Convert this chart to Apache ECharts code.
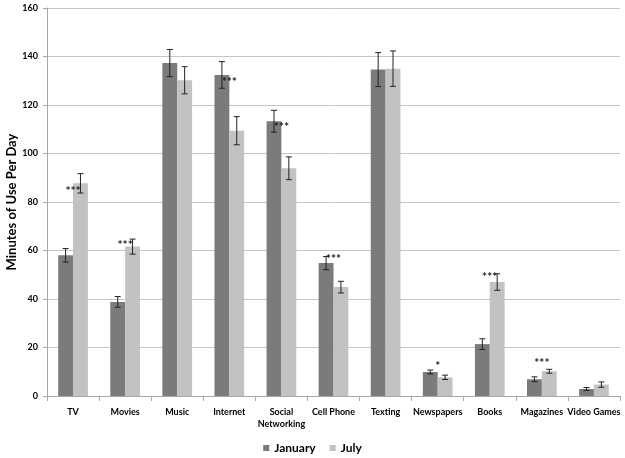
<!DOCTYPE html>
<html><head><meta charset="utf-8">
<script src="https://cdn.jsdelivr.net/npm/echarts@6/dist/echarts.min.js"></script>
<style>html,body{margin:0;padding:0;background:#fff}#c{width:625px;height:458px}</style>
</head><body><div id="c"></div>
<script>
const categories = ['TV','Movies','Music','Internet','Social\nNetworking','Cell Phone','Texting','Newspapers','Books','Magazines','Video Games'];
const january = [58, 38.8, 137.3, 132.4, 113.3, 54.8, 134.6, 9.9, 21.4, 6.9, 2.9];
const januaryErr = [2.8, 2.2, 5.6, 5.5, 4.5, 2.7, 7.0, 0.8, 2.2, 1.0, 0.6];
const july = [87.7, 61.6, 130.2, 109.4, 93.9, 44.9, 135.0, 7.7, 47.0, 10.2, 4.7];
const julyErr = [4.0, 3.1, 5.6, 5.8, 4.7, 2.4, 7.3, 0.9, 3.4, 0.8, 1.1];
const sigLabels = ['***','***','','***','***','***','','*','***','***',''];
const sigY = [85.8, 63.5, 0, 130.7, 112.2, 57.7, 0, 13.6, 50.3, 14.8, 0];
const yTicks = {min: 0, max: 160, interval: 20};

const FONT = 'Lato';
const GAP = 0.43;
const chart = echarts.init(document.getElementById('c'), null, {renderer: 'canvas'});

function errSeries(name, vals, errs, side) {
  return {
    type: 'custom', name: name + ' err', silent: true, z: 5,
    data: vals.map((v, i) => [i, v, errs[i]]),
    renderItem: function (params, api) {
      const i = api.value(0), v = api.value(1), e = api.value(2);
      const band = api.size([1, 0])[0];
      const bw = band * (1 - GAP) / 2;
      const cx = api.coord([i, 0])[0] + side * bw / 2;
      const top = api.coord([i, v + e])[1];
      const bot = api.coord([i, v - e])[1];
      const hw = 3;
      const st = {stroke: '#222', lineWidth: 1};
      return {type: 'group', children: [
        {type: 'line', shape: {x1: cx, y1: top, x2: cx, y2: bot}, style: st},
        {type: 'line', shape: {x1: cx - hw, y1: top, x2: cx + hw, y2: top}, style: st},
        {type: 'line', shape: {x1: cx - hw, y1: bot, x2: cx + hw, y2: bot}, style: st}
      ]};
    }
  };
}

chart.setOption({
  animation: false,
  textStyle: {fontFamily: FONT},
  grid: {left: 47, right: 5, top: 8, bottom: 62, containLabel: false, outerBoundsMode: 'none'},
  legend: {
    data: ['January', 'July'], top: 437, left: 'center',
    icon: 'rect', itemWidth: 6, itemHeight: 6, itemGap: 14,
    textStyle: {fontFamily: FONT, fontWeight: 'bold', fontSize: 12, color: '#000'}
  },
  xAxis: {
    type: 'category', data: categories,
    axisLine: {lineStyle: {color: '#a6a6a6'}},
    axisTick: {show: true, length: 5, lineStyle: {color: '#a6a6a6'}},
    axisLabel: {interval: 0, fontFamily: FONT, fontWeight: 'bold', fontSize: 9, color: '#000', margin: 10, lineHeight: 12}
  },
  yAxis: {
    type: 'value', min: yTicks.min, max: yTicks.max, interval: yTicks.interval,
    name: 'Minutes of Use Per Day', nameLocation: 'middle', nameGap: 29, nameMoveOverlap: false,
    nameTextStyle: {fontFamily: FONT, fontWeight: 'bold', fontSize: 13, color: '#000'},
    axisLine: {show: true, lineStyle: {color: '#a6a6a6'}},
    axisTick: {show: true, length: 4, lineStyle: {color: '#a6a6a6'}},
    axisLabel: {fontFamily: FONT, fontWeight: 'bold', fontSize: 9, color: '#000', margin: 9},
    splitLine: {lineStyle: {color: '#c6c6c6', width: 1}}
  },
  series: [
    {name: 'January', type: 'bar', data: january, barGap: '0%', barCategoryGap: (GAP * 100) + '%', itemStyle: {color: '#7b7b7b'}},
    {name: 'July', type: 'bar', data: july, itemStyle: {color: '#c2c2c2'}},
    errSeries('January', january, januaryErr, -1),
    errSeries('July', july, julyErr, 1),
    {
      type: 'custom', name: 'sig', silent: true, z: 6,
      data: sigY.map((y, i) => [i, y, sigLabels[i]]),
      renderItem: function (params, api) {
        const i = api.value(0);
        const s = sigLabels[i];
        if (!s) return null;
        const p = api.coord([i, sigY[i]]);
        return {type: 'text', x: p[0], y: p[1] + 3, style: {
          text: s, fontFamily: FONT, fontWeight: 'bold', fontSize: 12, fill: '#222',
          align: 'center', verticalAlign: 'middle'
        }};
      }
    }
  ]
});
</script></body></html>
